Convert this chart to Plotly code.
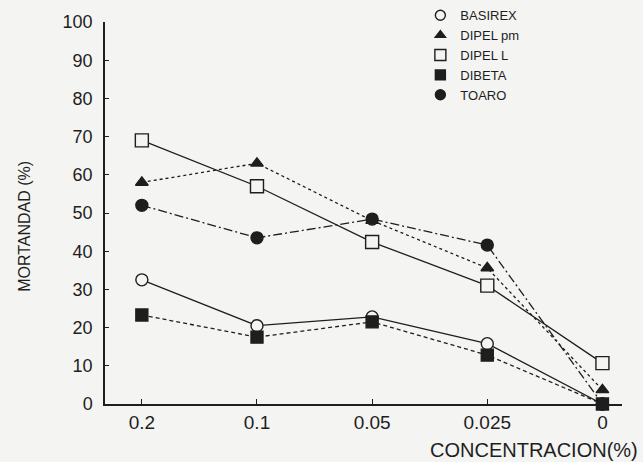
import plotly.graph_objects as go

categories = ["0.2", "0.1", "0.05", "0.025", "0"]
basirex = [32.5, 20.5, 22.8, 15.8, 0]
dipel_pm = [58, 63, 48, 35.6, 3.7]
dipel_l = [69, 57, 42.4, 31, 10.7]
dibeta = [23.3, 17.5, 21.5, 12.8, 0]
toaro = [52, 43.5, 48.4, 41.6, 0]

BG = "#f4f4f2"
INK = "#1e1e1e"
xs = list(range(len(categories)))

series = [
    # name, values, symbol, fill, dash, size
    ("BASIREX", basirex, "circle", BG, "solid", 12),
    ("DIPEL L", dipel_l, "square", BG, "solid", 13),
    ("DIPEL pm", dipel_pm, "triangle-up", INK, "dot", 11),
    ("TOARO", toaro, "circle", INK, "9px,3px,2px,3px", 12),
    ("DIBETA", dibeta, "square", INK, "4px,3px", 12),
]

fig = go.Figure()
for name, vals, sym, fill, dash, size in series:
    fig.add_trace(go.Scatter(
        x=xs, y=vals, mode="lines+markers", name=name, showlegend=False,
        line=dict(color=INK, width=1.3, dash=dash),
        marker=dict(symbol=sym, size=size, color=fill, line=dict(color=INK, width=1.4)),
        cliponaxis=False,
    ))

legend_order = ["BASIREX", "DIPEL pm", "DIPEL L", "DIBETA", "TOARO"]
lookup = {s[0]: s for s in series}
for key in legend_order:
    name, vals, sym, fill, dash, size = lookup[key]
    fig.add_trace(go.Scatter(
        x=[None], y=[None], mode="markers", name=name,
        marker=dict(symbol=sym, size=size - 2, color=fill, line=dict(color=INK, width=1.4)),
    ))

fig.update_layout(
    width=643, height=462,
    margin=dict(l=105, r=21, t=22, b=58, autoexpand=False),
    paper_bgcolor=BG, plot_bgcolor=BG,
    font=dict(family="Liberation Sans, Arial, sans-serif", color=INK),
    showlegend=True,
    legend=dict(
        x=0.61, y=1.057, xanchor="left", yanchor="top",
        bgcolor="rgba(0,0,0,0)", font=dict(size=13, color=INK),
        itemwidth=30, tracegroupgap=0, traceorder="normal",
    ),
    annotations=[
        dict(text="CONCENTRACION(%)", xref="paper", yref="paper",
             x=1.035, y=-0.12, xanchor="right", yanchor="middle",
             showarrow=False, font=dict(size=20, color=INK)),
        dict(text="MORTANDAD (%)", xref="paper", yref="paper",
             x=-0.155, y=0.466, xanchor="center", yanchor="middle", textangle=-90,
             showarrow=False, font=dict(size=16, color=INK)),
    ],
)

fig.update_xaxes(
    range=[-0.32, 4.17], tickvals=xs, ticktext=categories,
    showline=True, linecolor=INK, linewidth=1.5, showgrid=False, zeroline=False,
    ticks="inside", ticklen=5, tickcolor=INK, tickwidth=1,
    tickfont=dict(size=19, color=INK),
)
fig.update_yaxes(
    range=[0, 100], tickvals=list(range(0, 101, 10)),
    showline=True, linecolor=INK, linewidth=1.5, showgrid=False, zeroline=False,
    ticks="inside", ticklen=4, tickcolor=INK, tickwidth=1,
    tickfont=dict(size=18, color=INK), ticklabelstandoff=7,
)

fig.write_html("out.html")
